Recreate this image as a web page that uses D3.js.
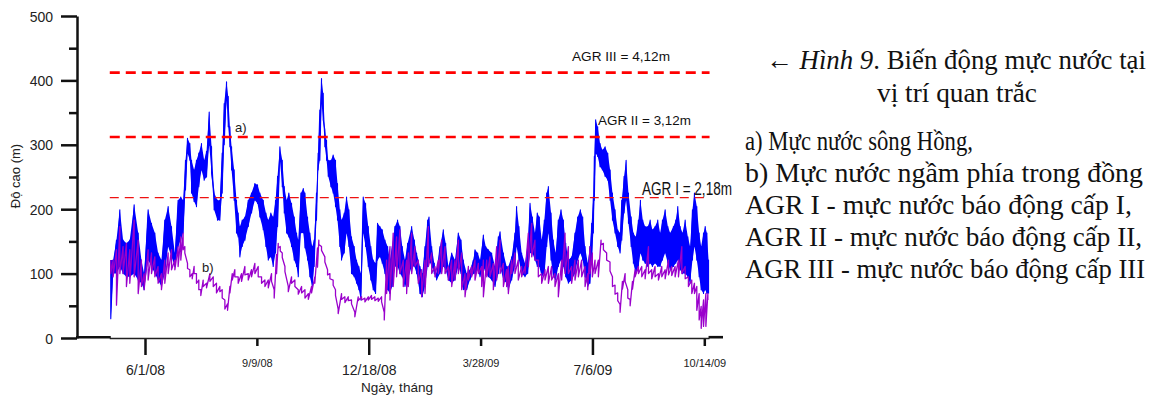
<!DOCTYPE html>
<html><head><meta charset="utf-8">
<script src="https://cdn.jsdelivr.net/npm/d3@7"></script>
<style>body{margin:0;background:#fff;} svg{display:block;}</style>
</head><body>
<svg id="c" width="1150" height="396"></svg>
<script>
// ---------- DATA ----------
// day offsets from 2008-05-01
const startDay = "2008-05-01";

// a) Red River water level: upper and lower envelope of the daily oscillation (cm)
const aDay = [0.4,2.5,5.5,8.5,11.4,14.4,17.4,21.3,24.9,27.8,
30.2,33.8,36.8,39.8,42.7,45.7,48.7,51.7,54.7,57.7,
60.6,63.0,65.1,67.2,69.0,71.1,72.6,74.9,77.0,79.1,
81.5,83.9,86.0,88.4,90.5,92.8,95.8,97.9,100.0,101.8,
103.9,105.4,106.9,108.4,110.7,112.8,114.3,115.8,117.9,120.3,
123.3,126.2,129.2,131.6,133.7,136.7,139.1,141.2,143.5,145.6,
147.7,149.5,151.6,153.7,155.5,157.6,159.6,162.0,164.4,166.5,
168.0,170.4,172.5,174.0,176.3,178.4,180.5,182.2,184.3,185.8,
187.3,188.8,190.3,191.8,193.3,194.8,197.2,199.2,201.3,203.1,
205.2,206.7,209.1,211.2,213.3,215.6,218.0,220.1,222.2,224.0,
226.1,228.2,230.6,232.9,235.0,237.1,238.9,241.0,243.1,245.5,
247.9,249.9,252.0,254.4,256.8,258.9,261.0,263.4,265.8,269.4,
271.8,273.8,276.8,278.9,281.3,283.7,284.9,287.3,289.6,291.7,
294.7,297.7,299.8,302.2,305.2,308.1,311.1,313.5,315.6,318.6,
321.5,324.5,326.0,328.4,330.5,333.5,335.6,338.0,340.9,343.9,
346.9,348.4,351.4,354.3,355.8,358.8,361.7,363.2,365.3,367.7,
370.7,373.1,375.2,377.3,379.6,381.7,383.5,385.6,388.0,390.1,
391.6,394.0,396.0,398.1,400.5,402.9,405.0,407.1,409.5,412.4,
415.4,417.8,420.2,422.3,424.4,426.8,428.8,430.3,431.8,432.7,
433.9,435.7,437.8,439.9,442.3,444.7,446.8,448.9,451.2,453.6,
455.7,457.2,459.3,461.1,463.2,465.6,467.6,469.7,472.1,473.9,
476.0,478.1,480.5,482.6,484.6,487.0,489.4,491.5,493.6,496.0,
498.4,500.5,503.4,505.5,507.3,509.4,511.5,513.9,516.3,518.3,
520.4,522.2,524.3,526.4,528.2,530.3,531.8,533.3,534.8];
const aHigh = [121,121,152,199,152,147,152,207,163,121,
100,199,178,163,132,121,183,204,173,132,
214,219,214,276,310,302,276,261,276,287,
302,276,290,351,297,225,214,214,287,364,
398,375,328,297,261,214,194,173,183,188,
214,225,240,238,225,214,194,183,194,188,
214,251,297,276,235,214,225,209,188,163,
152,225,232,225,188,163,142,152,225,287,
354,403,380,323,307,276,276,284,276,240,
199,183,194,219,199,157,142,121,111,100,
219,209,173,142,121,116,178,173,168,152,
142,121,142,173,183,173,142,121,147,173,
152,132,111,100,142,183,188,142,116,100,
142,168,147,111,132,121,163,152,121,100,
106,121,137,132,121,160,142,137,132,111,
157,165,132,111,111,126,163,204,173,132,
116,142,209,188,163,194,188,152,183,225,
235,194,152,132,183,199,183,147,121,126,
163,188,199,188,142,116,142,178,219,282,
339,328,302,292,297,287,261,225,199,168,
163,214,251,276,225,188,163,157,183,214,
183,173,173,183,168,173,183,163,183,199,
173,163,173,183,204,173,163,183,157,142,
199,225,204,163,142,163,173,163,121];
const aLow = [30,100,100,111,100,95,95,100,90,85,
75,121,111,100,90,80,100,142,126,111,
142,152,163,230,287,276,225,212,204,235,
261,245,250,300,256,199,183,183,225,300,
369,328,297,261,214,163,157,126,142,152,
173,194,214,209,188,168,142,121,126,111,
132,173,276,235,194,163,157,142,121,111,
95,163,163,140,121,95,80,111,183,261,
276,364,339,297,276,251,235,225,204,183,
142,121,132,163,142,100,95,85,75,59,
163,142,111,90,75,69,121,126,116,100,
75,69,80,111,111,100,95,80,90,111,
111,100,69,64,80,111,121,111,100,90,
100,111,106,90,85,90,111,100,75,75,
90,100,100,106,95,111,100,95,90,80,
100,111,90,85,75,90,111,142,121,100,
95,100,132,132,121,111,111,95,100,142,
163,121,95,90,111,121,111,95,85,90,
100,121,132,121,95,80,85,121,163,214,
287,282,266,261,251,245,214,183,163,142,
132,152,194,214,178,142,116,100,111,132,
121,116,111,116,111,116,111,111,121,132,
116,106,111,116,121,106,100,100,95,85,
121,142,121,95,75,69,75,69,69];

// b) groundwater level inside the dyke: upper and lower envelope
const bDay = [0.4,2.5,5.5,8.5,11.4,14.4,17.4,21.3,24.9,27.8,
30.2,33.8,36.8,39.8,42.7,45.7,48.7,51.7,54.7,57.7,
60.6,63.0,65.1,66.6,69.0,71.1,73.2,74.9,77.0,79.1,
80.9,83.0,86.0,89.0,92.0,94.9,97.9,100.0,102.4,104.8,
106.9,109.0,111.3,114.3,117.3,120.3,123.3,126.2,129.2,132.2,
135.2,138.2,141.2,144.1,146.5,148.6,150.1,151.9,153.7,156.1,
159.1,162.0,165.0,168.0,171.0,174.0,177.0,179.9,182.8,185.2,
186.4,188.8,191.8,194.2,196.3,199.2,201.3,203.7,206.7,209.7,
212.7,215.6,218.6,221.6,224.6,227.6,230.6,233.5,236.5,239.5,
242.5,244.9,247.0,250.0,252.9,255.9,258.9,261.9,264.9,266.4,
269.4,272.3,275.3,278.3,281.3,284.3,287.3,290.2,293.2,296.2,
299.2,302.2,305.2,308.1,311.1,314.1,317.1,320.1,323.0,326.0,
329.0,332.0,333.5,336.5,339.4,342.4,345.4,348.4,351.4,354.3,
355.8,358.8,361.7,364.7,367.7,370.7,373.7,376.7,379.6,382.6,
385.6,388.6,391.6,394.5,397.5,400.5,403.5,406.5,409.5,412.4,
415.4,418.4,421.4,424.4,426.8,428.8,430.9,433.3,436.3,438.7,
440.8,443.7,446.7,448.9,451.2,453.6,455.7,457.8,460.2,462.6,
464.7,466.8,469.1,472.1,475.1,478.1,481.1,484.0,487.0,490.0,
493.0,496.0,499.0,501.9,504.9,507.9,510.9,513.9,516.8,519.8,
522.2,524.3,526.4,528.2,530.3,532.4,534.2];
const bHigh = [121,121,137,173,142,147,137,183,152,121,
100,137,132,126,111,100,121,132,137,121,
142,157,163,142,116,106,100,111,100,90,
75,90,85,100,95,85,80,75,59,53,
80,100,106,95,100,111,100,106,116,111,
95,90,90,100,75,130,147,142,132,111,
80,95,90,75,80,75,69,80,95,140,
152,142,126,106,100,90,75,45,69,64,
64,59,40,64,64,62,64,66,64,62,
64,40,121,142,163,157,168,121,121,132,
163,142,121,106,121,173,132,111,121,152,
142,111,121,121,152,132,100,111,111,121,
116,111,121,121,126,116,142,152,116,106,
111,121,132,121,111,111,163,178,152,121,
100,106,111,111,100,100,121,163,142,111,
121,121,121,111,100,142,132,121,121,152,
147,132,118,95,82,70,52,88,100,75,
60,88,106,111,111,106,142,106,111,100,
111,106,121,111,111,121,142,111,95,90,
85,80,69,49,59,69,69];
const bLow = [100,95,51,100,100,80,85,95,69,80,
75,90,100,95,85,75,85,100,106,106,
111,121,137,132,108,95,92,100,85,75,
66,80,78,88,80,70,72,62,45,43,
70,90,95,85,88,98,90,95,100,95,
85,80,78,88,62,100,140,135,125,103,
72,85,80,68,70,62,60,70,85,110,
145,136,118,98,92,82,66,38,60,55,
58,53,33,58,59,56,59,60,58,57,
56,28,69,59,80,95,100,80,69,80,
100,111,85,64,69,111,100,95,100,100,
100,90,80,90,100,75,64,90,95,90,
100,80,64,95,95,75,90,100,80,80,
69,100,100,90,95,100,111,126,121,95,
85,90,85,90,80,64,90,100,100,85,
90,95,95,80,75,100,95,100,95,145,
137,121,104,80,68,58,40,76,88,62,
50,76,95,100,95,92,100,92,95,90,
95,92,98,97,95,95,100,92,80,69,
69,43,28,15,18,18,59];

// alarm levels
const alarmLevels = [218, 312, 412];
const alarmLabels = ["AGR I = 2,18m", "AGR II = 3,12m", "AGR III = 4,12m"];

// axes
const xTickDates = ["2008-06-01","2008-09-09","2008-12-18","2009-03-28","2009-07-06","2009-10-14"];
const xTickLabels = ["6/1/08","9/9/08","12/18/08","3/28/09","7/6/09","10/14/09"];
const xTickMajor = [true,false,true,false,true,false];
const yMajorTicks = [0,100,200,300,400,500];
const yMinorTicks = [50,150,250,350,450];

// caption text
const captionLines = [
  [["← ",""],["Hình 9","italic"],[". Biến động mực nước tại",""]],
  [["vị trí quan trắc",""]],
  [["a) Mực nước sông Hồng,",""]],
  [["b) Mực nước ngầm phía trong đồng",""]],
  [["AGR I - mực nước báo động cấp I,",""]],
  [["AGR II - mực nước báo động cấp II,",""]],
  [["AGR III - mực nước báo động cấp III",""]]
];

// ---------- DRAWING ----------
const svg = d3.select("#c");
const parse = d3.utcParse("%Y-%m-%d");
const t0 = parse(startDay).getTime();
const dayToDate = d => new Date(t0 + d * 864e5);

const x = d3.scaleUtc()
  .domain([parse("2008-06-01"), parse("2009-10-14")])
  .range([145, 704.3]);
const y = d3.scaleLinear().domain([0, 500]).range([338, 16]);

const seriesA = aDay.map((d, i) => ({t: dayToDate(d), hi: aHigh[i], lo: aLow[i]}));
const seriesB = bDay.map((d, i) => ({t: dayToDate(d), hi: bHigh[i], lo: bLow[i]}));

const area = d3.area().x(d => x(d.t)).y0(d => y(d.lo)).y1(d => y(d.hi));
// oscillation trace: high then low at every reading
const saw = data => d3.line()(data.flatMap(d => [[x(d.t), y(d.hi)], [x(d.t), y(d.lo)]]));

svg.append("path").datum(seriesA).attr("d", area)
  .attr("fill", "#0000ff").attr("stroke", "none");
svg.append("path").attr("d", saw(seriesA))
  .attr("fill", "none").attr("stroke", "#0000ff").attr("stroke-width", 1.1)
  .attr("stroke-linejoin", "round");
svg.append("path").attr("d", saw(seriesB))
  .attr("fill", "none").attr("stroke", "#9a00cc").attr("stroke-width", 1.3)
  .attr("stroke-linejoin", "round");

// alarm lines
const xStart = x(dayToDate(aDay[0])) - 1;
const xEnd = x(dayToDate(aDay[aDay.length - 1])) + 1;
alarmLevels.forEach((v, i) => {
  svg.append("line")
    .attr("x1", xStart).attr("x2", xEnd)
    .attr("y1", y(v)).attr("y2", y(v))
    .attr("stroke", i === 0 ? "#ee1111" : "#ff0000")
    .attr("stroke-width", i === 0 ? 1.2 : 2.6)
    .attr("stroke-dasharray", i === 0 ? "9,6" : "10,6");
});

const sans = "Arial, 'Liberation Sans', sans-serif";

// y axis
const yAxisG = svg.append("g").attr("transform", "translate(77,0)");
yAxisG.call(d3.axisLeft(y).tickValues(yMajorTicks).tickSize(16).tickSizeOuter(0).tickFormat(d3.format("d")));
yAxisG.append("g").call(d3.axisLeft(y).tickValues(yMinorTicks).tickSize(8).tickSizeOuter(0).tickFormat(""))
  .select(".domain").remove();
yAxisG.selectAll("line").attr("stroke", "#111").attr("stroke-width", 2.5);
yAxisG.select(".domain").attr("stroke", "#111").attr("stroke-width", 2.5);
yAxisG.selectAll("text")
  .attr("x", -24).attr("dy", "0.36em")
  .style("font-family", sans).style("font-size", "14px").attr("fill", "#222");

// x axis
const xAxisG = svg.append("g").attr("transform", "translate(0,338)");
const tickDates = xTickDates.map(parse);
const majorDates = tickDates.filter((d, i) => xTickMajor[i]);
const minorDates = tickDates.filter((d, i) => !xTickMajor[i]);
const labelOf = d => xTickLabels[tickDates.findIndex(t => t.getTime() === d.getTime())];

const gMaj = xAxisG.append("g").call(d3.axisBottom(x).tickValues(majorDates).tickSize(17).tickSizeOuter(0).tickFormat(labelOf));
const gMin = xAxisG.append("g").call(d3.axisBottom(x).tickValues(minorDates).tickSize(8).tickSizeOuter(0).tickFormat(labelOf));
xAxisG.selectAll(".domain").remove();
xAxisG.selectAll("line").attr("stroke", "#111").attr("stroke-width", 2.5);
gMaj.selectAll("text").attr("y", 37).attr("dy", 0)
  .style("font-family", sans).style("font-size", "14px").attr("fill", "#222");
gMin.selectAll("text").attr("y", 28.5).attr("dy", 0)
  .style("font-family", sans).style("font-size", "11px").attr("fill", "#222");

// baseline segments
xAxisG.append("line").attr("x1", xStart).attr("x2", xEnd).attr("y1", 0.5).attr("y2", 0.5)
  .attr("stroke", "#222").attr("stroke-width", 1.6);
xAxisG.append("line").attr("x1", 76).attr("x2", xStart + 1).attr("y1", -0.8).attr("y2", -0.8)
  .attr("stroke", "#111").attr("stroke-width", 2.6);
xAxisG.append("line").attr("x1", xEnd - 1).attr("x2", 723).attr("y1", -0.8).attr("y2", -0.8)
  .attr("stroke", "#111").attr("stroke-width", 2.6);

// axis titles
svg.append("text").attr("transform", "translate(20,176) rotate(-90)")
  .attr("text-anchor", "middle").style("font-family", sans).style("font-size", "13px")
  .attr("fill", "#222").text("Độ cao (m)");
svg.append("text").attr("x", 397).attr("y", 392).attr("text-anchor", "middle")
  .style("font-family", sans).style("font-size", "13px").attr("fill", "#222")
  .attr("textLength", 72).attr("lengthAdjust", "spacingAndGlyphs").text("Ngày, tháng");

// alarm labels
const alarmLabelPos = [[642, 195, 18, 90], [598, 125, 13.6, 93], [572, 61, 13.6, 98]];
alarmLabels.forEach((s, i) => {
  const p = alarmLabelPos[i];
  svg.append("text").attr("x", p[0]).attr("y", p[1])
    .style("font-family", sans).style("font-size", p[2] + "px").attr("fill", "#111")
    .attr("textLength", p[3]).attr("lengthAdjust", "spacingAndGlyphs").text(s);
});

// series labels
svg.append("text").attr("x", 235).attr("y", 132).style("font-family", sans).style("font-size", "13px").attr("fill", "#222").text("a)");
svg.append("text").attr("x", 202).attr("y", 272).style("font-family", sans).style("font-size", "13px").attr("fill", "#222").text("b)");

// caption block
const serif = "'Liberation Serif', 'Times New Roman', serif";
const capPos = [[766, 69, 380], [877, 101.5, 160], [745, 150, 228], [745, 182, 398], [745, 213.5, 387], [745, 246, 397], [745, 278, 400]];
captionLines.forEach((parts, i) => {
  const p = capPos[i];
  const t = svg.append("text").attr("x", p[0]).attr("y", p[1])
    .style("font-family", serif).style("font-size", "27px").attr("fill", "#111")
    .attr("textLength", p[2]).attr("lengthAdjust", "spacingAndGlyphs");
  parts.forEach(pt => {
    t.append("tspan").style("font-style", pt[1] === "italic" ? "italic" : "normal").text(pt[0]);
  });
});
</script>
</body></html>
